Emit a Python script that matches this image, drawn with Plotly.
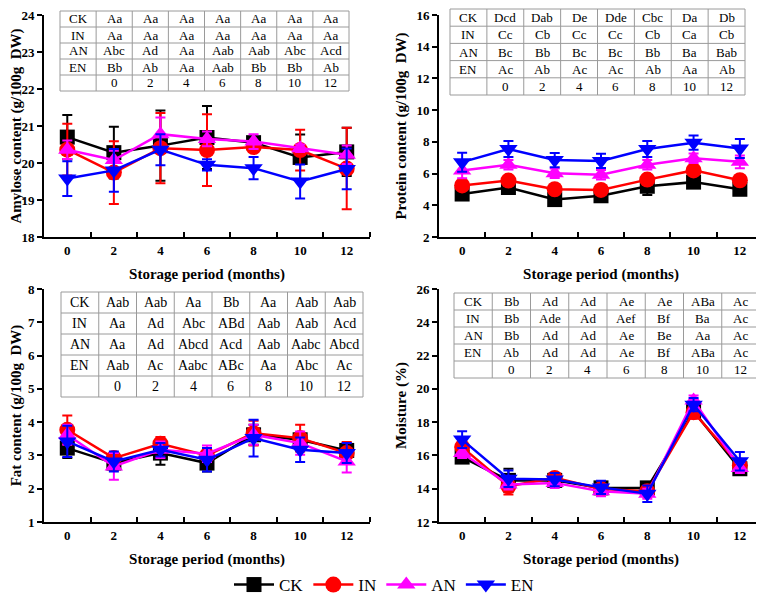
import plotly.graph_objects as go

months = [0, 2, 4, 6, 8, 10, 12]
groups = ["CK", "IN", "AN", "EN"]
colors = {"CK": "#000000", "IN": "#ff0000", "AN": "#ff00ff", "EN": "#0000ff"}
symbols = {"CK": "square", "IN": "circle", "AN": "triangle-up", "EN": "triangle-down"}

# Amylose content
amy_CK = [20.7, 20.28, 20.47, 20.69, 20.55, 20.15, 20.3]
amy_CK_err = [0.6, 0.7, 0.95, 0.85, 0.15, 0.62, 0.65]
amy_IN = [20.36, 19.74, 20.4, 20.35, 20.43, 20.35, 19.85]
amy_IN_err = [0.7, 0.85, 0.95, 0.97, 0.12, 0.55, 1.1]
amy_AN = [20.36, 20.08, 20.78, 20.65, 20.58, 20.4, 20.22]
amy_AN_err = [0.25, 0.25, 0.45, 0.2, 0.2, 0.1, 0.25]
amy_EN = [19.58, 19.8, 20.36, 19.95, 19.86, 19.5, 19.84]
amy_EN_err = [0.47, 0.58, 0.42, 0.15, 0.3, 0.46, 0.55]

# Protein content
pro_CK = [4.71, 5.12, 4.36, 4.6, 5.2, 5.46, 5.01]
pro_CK_err = [0.25, 0.2, 0.2, 0.2, 0.55, 0.2, 0.25]
pro_IN = [5.25, 5.56, 5.01, 4.97, 5.62, 6.2, 5.58]
pro_IN_err = [0.3, 0.1, 0.3, 0.25, 0.3, 0.3, 0.3]
pro_AN = [6.2, 6.55, 6.02, 5.92, 6.55, 6.97, 6.74]
pro_AN_err = [0.5, 0.3, 0.3, 0.3, 0.3, 0.3, 0.4]
pro_EN = [6.72, 7.55, 6.85, 6.8, 7.55, 7.95, 7.58]
pro_EN_err = [0.6, 0.5, 0.45, 0.45, 0.5, 0.45, 0.6]

# Fat content
fat_CK = [3.22, 2.77, 3.07, 2.77, 3.62, 3.47, 3.15]
fat_CK_err = [0.3, 0.2, 0.35, 0.25, 0.3, 0.2, 0.2]
fat_IN = [3.77, 2.92, 3.35, 3.0, 3.67, 3.52, 3.07]
fat_IN_err = [0.43, 0.15, 0.2, 0.2, 0.37, 0.4, 0.33]
fat_AN = [3.62, 2.67, 3.17, 3.05, 3.62, 3.37, 2.82]
fat_AN_err = [0.3, 0.4, 0.25, 0.25, 0.3, 0.35, 0.33]
fat_EN = [3.42, 2.82, 3.17, 2.87, 3.52, 3.17, 3.07]
fat_EN_err = [0.47, 0.3, 0.2, 0.35, 0.55, 0.37, 0.3]

# Moisture
moi_CK = [15.9, 14.5, 14.5, 14.05, 14.05, 18.65, 15.2]
moi_CK_err = [0.3, 0.7, 0.4, 0.3, 0.3, 0.3, 0.3]
moi_IN = [16.5, 14.15, 14.65, 13.98, 13.85, 18.6, 15.4]
moi_IN_err = [0.4, 0.5, 0.3, 0.3, 0.2, 0.4, 0.3]
moi_AN = [16.15, 14.25, 14.35, 13.85, 13.7, 19.3, 15.25]
moi_AN_err = [0.3, 0.3, 0.3, 0.3, 0.3, 0.3, 0.3]
moi_EN = [16.95, 14.6, 14.55, 14.08, 13.7, 19.05, 15.65]
moi_EN_err = [0.5, 0.5, 0.4, 0.4, 0.5, 0.4, 0.55]

# Significance letter tables
amy_tab = {
    "CK": ["Aa", "Aa", "Aa", "Aa", "Aa", "Aa", "Aa"],
    "IN": ["Aa", "Aa", "Aa", "Aa", "Aa", "Aa", "Aa"],
    "AN": ["Abc", "Ad", "Aa", "Aab", "Aab", "Abc", "Acd"],
    "EN": ["Bb", "Ab", "Aa", "Aab", "Bb", "Bb", "Ab"],
}
pro_tab = {
    "CK": ["Dcd", "Dab", "De", "Dde", "Cbc", "Da", "Db"],
    "IN": ["Cc", "Cb", "Cc", "Cc", "Cb", "Ca", "Cb"],
    "AN": ["Bc", "Bb", "Bc", "Bc", "Bb", "Ba", "Bab"],
    "EN": ["Ac", "Ab", "Ac", "Ac", "Ab", "Aa", "Ab"],
}
fat_tab = {
    "CK": ["Aab", "Aab", "Aa", "Bb", "Aa", "Aab", "Aab"],
    "IN": ["Aa", "Ad", "Abc", "ABd", "Aab", "Aab", "Acd"],
    "AN": ["Aa", "Ad", "Abcd", "Acd", "Aab", "Aabc", "Abcd"],
    "EN": ["Aab", "Ac", "Aabc", "ABc", "Aa", "Abc", "Ac"],
}
moi_tab = {
    "CK": ["Bb", "Ad", "Ad", "Ae", "Ae", "ABa", "Ac"],
    "IN": ["Bb", "Ade", "Ad", "Aef", "Bf", "Ba", "Ac"],
    "AN": ["Bb", "Ad", "Ad", "Ae", "Be", "Aa", "Ac"],
    "EN": ["Ab", "Ad", "Ad", "Ae", "Bf", "ABa", "Ac"],
}

y_titles = ["Amylose content (g/100g&nbsp;&nbsp;DW)", "Protein content (g/100g&nbsp;&nbsp;DW)",
            "Fat content (g/100g&nbsp;&nbsp;DW)", "Moisture (%)"]
x_title = "Storage period (months)"

# the page body has an 8px margin, so the figure is 756x592 and offset by 8px
OFF = 8
FW, FH = 764 - OFF, 600 - OFF
FONT = "Liberation Serif, Times New Roman, serif"
GRID = "#9a9a9a"

def X(px):
    return min(max((px - OFF) / FW, 0.0), 1.0)

def Y(py):
    return min(max((600 - py) / FH, 0.0), 1.0)

panels = [
    dict(data=(amy_CK, amy_IN, amy_AN, amy_EN), err=(amy_CK_err, amy_IN_err, amy_AN_err, amy_EN_err),
         tab=amy_tab, xd=[X(44), X(370)], yd=[Y(237), Y(15)], yr=[18, 24], dt=1,
         box=(60, 349, 11, 91), fs=13),
    dict(data=(pro_CK, pro_IN, pro_AN, pro_EN), err=(pro_CK_err, pro_IN_err, pro_AN_err, pro_EN_err),
         tab=pro_tab, xd=[X(439), X(763)], yd=[Y(237), Y(15)], yr=[2, 16], dt=2,
         box=(450, 745, 9, 95), fs=13),
    dict(data=(fat_CK, fat_IN, fat_AN, fat_EN), err=(fat_CK_err, fat_IN_err, fat_AN_err, fat_EN_err),
         tab=fat_tab, xd=[X(44), X(370)], yd=[Y(522), Y(289)], yr=[1, 8], dt=1,
         box=(61, 363, 292, 397), fs=14),
    dict(data=(moi_CK, moi_IN, moi_AN, moi_EN), err=(moi_CK_err, moi_IN_err, moi_AN_err, moi_EN_err),
         tab=moi_tab, xd=[X(439), X(763)], yd=[Y(522), Y(289)], yr=[12, 26], dt=2,
         box=(454, 760, 293, 378), fs=13),
]

fig = go.Figure()
shapes = []
annotations = []
layout = dict(
    width=FW, height=FH, margin=dict(l=0, r=0, t=0, b=0, autoexpand=False),
    paper_bgcolor="white", plot_bgcolor="white",
    font=dict(family=FONT, color="black"),
    showlegend=True,
    legend=dict(orientation="h", x=X(384), xanchor="center", y=Y(585), yanchor="middle",
                font=dict(family=FONT, size=17, color="black"), itemwidth=40,
                bgcolor="rgba(0,0,0,0)"),
)

for i, p in enumerate(panels):
    ax = "" if i == 0 else str(i + 1)
    for g, ys, es in zip(groups, p["data"], p["err"]):
        fig.add_trace(go.Scatter(
            x=months, y=ys, name=g, mode="lines+markers",
            xaxis="x" + ax, yaxis="y" + ax,
            line=dict(color=colors[g], width=2.5),
            marker=dict(symbol=symbols[g], size=15 if g == "CK" else 16, color=colors[g]),
            error_y=dict(type="data", array=es, visible=True, color=colors[g], thickness=2, width=5),
            showlegend=(i == 0), legendgroup=g, cliponaxis=False,
        ))
    layout["xaxis" + ax] = dict(
        domain=p["xd"], anchor="y" + ax, range=[-1, 13], automargin=False,
        tickmode="array", tickvals=months, ticktext=[str(m) for m in months], ticks="",
        minor=dict(tickmode="array", tickvals=[1, 3, 5, 7, 9, 11, 13], ticks="inside",
                   ticklen=5, tickwidth=1.5, tickcolor="black", showgrid=False),
        showline=True, linecolor="black", linewidth=2, showgrid=False, zeroline=False,
        ticklabeloverflow="allow",
        tickfont=dict(family=FONT, size=13, color="black", weight="bold"),
        title=dict(text="<b>" + x_title + "</b>", font=dict(family=FONT, size=15, color="black"), standoff=12),
    )
    layout["yaxis" + ax] = dict(
        domain=p["yd"], anchor="x" + ax, range=p["yr"], dtick=p["dt"], tick0=0, automargin=False,
        ticks="outside", ticklen=5, tickwidth=1.5, tickcolor="black",
        showline=True, linecolor="black", linewidth=2, showgrid=False, zeroline=False,
        ticklabeloverflow="allow",
        tickfont=dict(family=FONT, size=13, color="black", weight="bold"),
        title=dict(text="<b>" + y_titles[i] + "</b>", font=dict(family=FONT, size=15, color="black"), standoff=6),
    )
    # significance table drawn as shapes + annotations (paper coordinates)
    x0, x1, y0, y1 = p["box"]
    tab = p["tab"]
    rows = [[g] + tab[g] for g in groups] + [[""] + [str(m) for m in months]]
    nr, nc = len(rows), len(rows[0])
    cw = (x1 - x0) / nc
    rh = (y1 - y0) / nr
    shapes.append(dict(type="rect", xref="paper", yref="paper",
                       x0=X(x0), x1=X(x1), y0=Y(y1), y1=Y(y0),
                       line=dict(color=GRID, width=1), fillcolor="white", layer="above"))
    for c in range(1, nc):
        xx = X(x0 + c * cw)
        shapes.append(dict(type="line", xref="paper", yref="paper", x0=xx, x1=xx,
                           y0=Y(y1), y1=Y(y0), line=dict(color=GRID, width=1), layer="above"))
    for r in range(1, nr):
        yy = Y(y0 + r * rh)
        shapes.append(dict(type="line", xref="paper", yref="paper", x0=X(x0), x1=X(x1),
                           y0=yy, y1=yy, line=dict(color=GRID, width=1), layer="above"))
    for r, row in enumerate(rows):
        for c, txt in enumerate(row):
            if txt == "":
                continue
            annotations.append(dict(
                text=txt, xref="paper", yref="paper", showarrow=False,
                x=X(x0 + (c + 0.5) * cw), y=Y(y0 + (r + 0.5) * rh),
                xanchor="center", yanchor="middle",
                font=dict(family=FONT, size=p["fs"], color="black")))

layout["shapes"] = shapes
layout["annotations"] = annotations
fig.update_layout(**layout)
fig.write_html("out.html")
